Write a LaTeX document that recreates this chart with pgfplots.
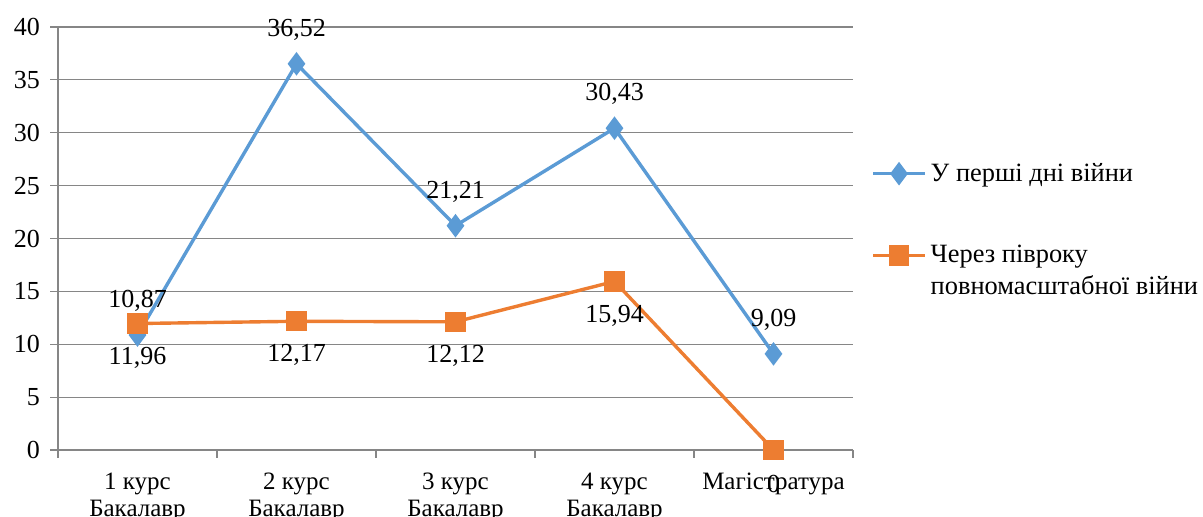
\documentclass[border=0pt]{standalone}
\usepackage{fontspec}
\setmainfont{Liberation Serif}
\usepackage{pgfplots}
\pgfplotsset{compat=1.18}
\definecolor{serA}{RGB}{91,155,213}
\definecolor{serB}{RGB}{237,125,49}
\definecolor{gridc}{RGB}{134,134,134}

\begin{document}
\begin{tikzpicture}[font=\fontsize{13}{16}\selectfont]
\begin{axis}[
  at={(29pt,33.5pt)}, anchor=south west,
  scale only axis, width=397.5pt, height=211.5pt,
  xmin=-0.5, xmax=4.5, ymin=0, ymax=40,
  axis x line=bottom, axis y line=left,
  axis line style={-, gridc, line width=0.6pt},
  ytick={0,5,...,40}, ymajorgrids,
  grid style={gridc, line width=0.6pt},
  xtick={-0.5,0.5,1.5,2.5,3.5,4.5},
  x tick label as interval,
  xticklabels={1 курс\\Бакалавр, 2 курс\\Бакалавр, 3 курс\\Бакалавр, 4 курс\\Бакалавр, Магістратура},
  xticklabel style={align=center, yshift=-4pt, font=\fontsize{12.5}{13.5}\selectfont},
  yticklabel style={xshift=-1.5pt},
  /pgf/number format/assume math mode=true,
  tick align=outside, major tick length=4pt,
  tick style={gridc, line width=0.6pt},
  clip=false,
  legend style={draw=none, fill=none, at={(axis description cs:1.015,0.698)}, anchor=north west,
    cells={anchor=west}, row sep=26.5pt, font=\fontsize{13.2}{16}\selectfont},
  legend image code/.code={\draw[mark repeat=2,mark phase=2,#1] plot coordinates {(0pt,0pt)(13pt,0pt)(26pt,0pt)};},
]
\addplot[serA, line width=1.7pt, mark=diamond*, mark size=4.5pt, mark options={solid},
  nodes near coords, point meta=explicit symbolic,
  nodes near coords style={black, anchor=center, yshift=17pt}]
  coordinates {(0,10.87)[10,87] (1,36.52)[36,52] (2,21.21)[21,21] (3,30.43)[30,43] (4,9.09)[9,09]};
\addlegendentry{У перші дні війни}
\addplot[serB, line width=1.7pt, mark=square*, mark size=4.2pt, mark options={solid},
  nodes near coords, point meta=explicit symbolic,
  nodes near coords style={black, anchor=center, yshift=-17pt}]
  coordinates {(0,11.96)[11,96] (1,12.17)[12,17] (2,12.12)[12,12] (3,15.94)[15,94] (4,0)[0]};
\addlegendentry{\makebox[0pt][l]{\raisebox{-16pt}[0pt][0pt]{повномасштабної війни}}Через півроку}
\end{axis}
\pgfresetboundingbox
\useasboundingbox (0,0) rectangle (601.5pt,258.5pt);
\end{tikzpicture}
\end{document}
